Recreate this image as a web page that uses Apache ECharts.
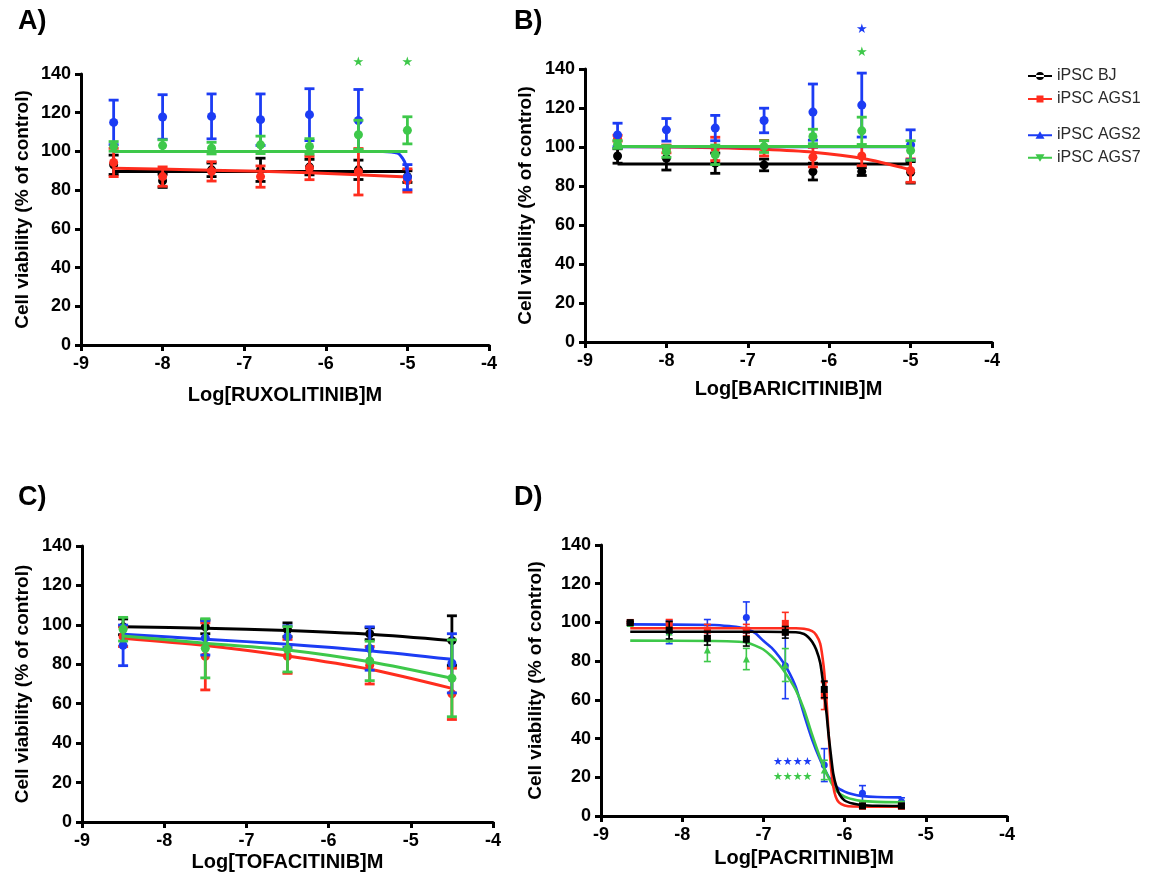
<!DOCTYPE html>
<html>
<head>
<meta charset="utf-8">
<script src="https://cdn.jsdelivr.net/npm/echarts@6/dist/echarts.min.js"></script>
<style>
  html, body { margin: 0; padding: 0; background: #ffffff; }
  #chart { width: 1156px; height: 883px; }
</style>
</head>
<body>
<div id="chart"></div>
<script>
// Cell lines (row order of every mean / SD / fit table below)
const cellLines = ['iPSC BJ', 'iPSC AGS1', 'iPSC AGS2', 'iPSC AGS7'];
const lineColors = ['#000000', '#ff2d1e', '#1c3cf4', '#3ec84a'];

// Tick values on both axes
const xTicks = [-9, -8, -7, -6, -5, -4];
const yTicks = [0, 20, 40, 60, 80, 100, 120, 140];

// A) Ruxolitinib
const ruxDose = [-8.6, -8, -7.4, -6.8, -6.2, -5.6, -5];
const ruxMean = [
  [93.1, 84.8, 90.5, 90.5, 91.9, 90.5, 87.0],
  [94.3, 87.0, 89.7, 87.0, 91.4, 89.5, 85.0],
  [115.0, 117.8, 118.1, 116.4, 119.0, 116.0, 86.7],
  [102.6, 103.0, 101.7, 103.4, 102.6, 108.6, 110.9]
];
const ruxSD = [
  [5.0, 3.4, 3.5, 6.0, 4.0, 5.0, 3.0],
  [7.3, 5.0, 5.0, 5.5, 6.0, 12.0, 6.0],
  [11.5, 11.5, 11.6, 13.3, 13.4, 16.0, 6.5],
  [2.5, 3.0, 3.0, 4.5, 4.0, 7.5, 7.0]
];
const ruxFit = [
  [[-8.6, 89.6], [-5, 89.6]],
  [[-8.6, 91.3], [-7.4, 90.3], [-6.2, 89.0], [-5, 86.8]],
  [[-8.6, 100], [-5.3, 100], [-5.12, 99.1], [-5.06, 96.5], [-5.02, 93.0], [-5, 88.5]],
  [[-8.6, 100], [-5, 100]]
];
const ruxStars = [[-5.6, 145.7, '★', 3], [-5, 145.7, '★', 3]];

// B) Baricitinib
const bariDose = [-8.6, -8, -7.4, -6.8, -6.2, -5.6, -5];
const bariMean = [
  [95.4, 94.2, 91.7, 90.8, 87.4, 87.4, 87.0],
  [104.5, 99.0, 99.0, 99.4, 94.8, 95.4, 87.9],
  [106.2, 108.8, 109.7, 113.6, 117.9, 121.5, 101.1],
  [101.3, 97.7, 96.0, 100.2, 105.4, 108.3, 98.2]
];
const bariSD = [
  [3.7, 6.0, 5.2, 3.0, 4.3, 2.0, 5.5],
  [1.5, 2.0, 6.0, 4.0, 5.0, 5.0, 6.0],
  [6.0, 5.8, 6.5, 6.3, 14.4, 16.4, 7.7],
  [2.0, 3.0, 5.0, 3.0, 3.7, 7.0, 5.0]
];
const bariFit = [
  [[-8.6, 91.3], [-5, 91.3]],
  [[-8.6, 100.3], [-7.4, 99.6], [-6.8, 98.8], [-6.2, 97.3], [-5.6, 94.2], [-5, 88.3]],
  [[-8.6, 100.1], [-5, 100.1]],
  [[-8.6, 100.2], [-5, 100.2]]
];
const bariStars = [[-5.6, 160.2, '★', 2], [-5.6, 148.2, '★', 3]];

// C) Tofacitinib
const tofaDose = [-8.5, -7.5, -6.5, -5.5, -4.5];
const tofaMean = [
  [99.0, 99.0, 97.5, 95.5, 92.0],
  [94.0, 84.0, 84.0, 79.5, 65.0],
  [89.6, 93.4, 94.0, 88.0, 80.5],
  [97.8, 88.1, 87.6, 81.7, 72.9]
];
const tofaSD = [
  [4.0, 3.5, 3.5, 3.0, 12.6],
  [5.0, 17.0, 8.6, 9.5, 13.0],
  [10.3, 8.7, 5.5, 11.0, 15.0],
  [6.0, 15.0, 11.5, 10.0, 19.5]
];
const tofaFit = [
  [[-8.5, 99.1], [-7.5, 98.3], [-6.5, 97.1], [-5.5, 95.2], [-4.5, 92.0]],
  [[-8.5, 93.2], [-7.5, 89.5], [-6.5, 84.2], [-5.5, 77.5], [-4.5, 67.8]],
  [[-8.5, 95.2], [-7.5, 92.7], [-6.5, 90.2], [-5.5, 86.9], [-4.5, 82.5]],
  [[-8.5, 94.4], [-7.5, 90.7], [-6.5, 87.3], [-5.5, 81.3], [-4.5, 72.9]]
];
const tofaStars = [];

// D) Pacritinib
const pacDose = [-8.64, -8.16, -7.69, -7.21, -6.73, -6.25, -5.78, -5.30];
const pacMean = [
  [99.9, 96.0, 91.8, 91.3, 94.9, 65.4, 5.2, 5.2],
  [100.0, 99.0, 96.0, 96.0, 99.5, 62.0, 5.0, 5.0],
  [99.5, 95.0, 96.0, 102.6, 77.6, 26.3, 11.7, 7.4],
  [99.5, 95.0, 85.8, 81.1, 78.0, 23.8, 6.5, 6.5]
];
const pacSD = [
  [0.5, 4.5, 3.5, 3.5, 3.0, 4.3, 0.8, 0.8],
  [0.5, 2.5, 3.0, 3.0, 5.7, 7.0, 1.0, 1.0],
  [1.0, 6.0, 5.5, 8.0, 17.0, 8.5, 4.0, 2.0],
  [1.0, 5.0, 6.0, 5.5, 8.5, 5.0, 1.0, 1.0]
];
const pacFit = [
  [[-8.64, 95.2], [-7.0, 95.2], [-6.6, 94.9], [-6.5, 94.0], [-6.45, 92.5], [-6.4, 90.0], [-6.35, 86.0],
   [-6.3, 79.0], [-6.26, 67.0], [-6.22, 52.0], [-6.2, 43.0], [-6.17, 32.0], [-6.14, 22.0], [-6.1, 15.0],
   [-6.06, 11.0], [-6.0, 8.0], [-5.9, 6.4], [-5.8, 5.7], [-5.6, 5.3], [-5.3, 5.2]],
  [[-8.64, 97.0], [-6.6, 97.0], [-6.5, 96.7], [-6.4, 95.5], [-6.35, 93.5], [-6.3, 89.0], [-6.26, 78.0],
   [-6.23, 64.0], [-6.21, 51.0], [-6.19, 38.0], [-6.17, 26.0], [-6.14, 15.5], [-6.11, 10.0], [-6.07, 7.0],
   [-6.0, 5.4], [-5.9, 4.9], [-5.3, 4.8]],
  [[-8.64, 99.0], [-7.6, 98.7], [-7.4, 98.0], [-7.3, 97.5], [-7.2, 96.5], [-7.1, 94.5], [-7.0, 90.5],
   [-6.9, 87.0], [-6.8, 82.0], [-6.7, 75.5], [-6.6, 66.5], [-6.5, 52.5], [-6.4, 39.5], [-6.3, 29.0],
   [-6.2, 20.5], [-6.1, 15.1], [-6.0, 12.6], [-5.9, 11.2], [-5.8, 10.4], [-5.6, 9.8], [-5.3, 9.6]],
  [[-8.64, 90.6], [-7.6, 90.4], [-7.3, 90.0], [-7.2, 89.5], [-7.1, 88.0], [-7.0, 86.0], [-6.9, 82.5],
   [-6.8, 78.0], [-6.7, 72.0], [-6.6, 65.0], [-6.5, 55.0], [-6.4, 42.0], [-6.3, 30.0], [-6.2, 20.0],
   [-6.1, 13.0], [-6.0, 10.0], [-5.9, 8.6], [-5.8, 7.8], [-5.6, 7.3], [-5.3, 7.1]]
];
const pacStars = [[-6.64, 27.9, '★★★★', 2], [-6.64, 20.2, '★★★★', 3]];

// Axis titles and panel letters
const drugTitles = ['Log[RUXOLITINIB]M', 'Log[BARICITINIB]M', 'Log[TOFACITINIB]M', 'Log[PACRITINIB]M'];
const panelLetters = ['A)', 'B)', 'C)', 'D)'];
const yTitle = 'Cell viability (% of control)';

const FONT = '"Liberation Sans", Arial, Helvetica, sans-serif';

// Panel geometry and styling
const panels = [
  { grid: { left: 81, top: 74, width: 408, height: 271 }, xGap: 40, yGap: 49,
    dose: ruxDose, mean: ruxMean, sd: ruxSD, fit: ruxFit, stars: ruxStars, starFont: 13,
    order: [0, 1, 2, 3], symbols: ['circle', 'circle', 'circle', 'circle'],
    symbolSize: 9, barWidth: 2.8, cap: 10, fitWidth: 3, smooth: 0.3, letter: [18, 8] },
  { grid: { left: 585, top: 69, width: 407, height: 273 }, xGap: 37, yGap: 50,
    dose: bariDose, mean: bariMean, sd: bariSD, fit: bariFit, stars: bariStars, starFont: 13,
    order: [0, 1, 2, 3], symbols: ['circle', 'circle', 'circle', 'circle'],
    symbolSize: 9, barWidth: 2.8, cap: 10, fitWidth: 3, smooth: 0.3, letter: [514, 8] },
  { grid: { left: 82, top: 546, width: 411, height: 276 }, xGap: 30, yGap: 50,
    dose: tofaDose, mean: tofaMean, sd: tofaSD, fit: tofaFit, stars: tofaStars, starFont: 13,
    order: [0, 1, 2, 3], symbols: ['circle', 'circle', 'circle', 'circle'],
    symbolSize: 9, barWidth: 2.8, cap: 10, fitWidth: 3, smooth: 0.3, letter: [18, 484] },
  { grid: { left: 601, top: 545, width: 406, height: 271 }, xGap: 32, yGap: 56,
    dose: pacDose, mean: pacMean, sd: pacSD, fit: pacFit, stars: pacStars, starFont: 11,
    order: [2, 3, 1, 0], symbols: ['rect', 'rect', 'circle', 'triangle'],
    symbolSize: 7, barWidth: 1.6, cap: 7, fitWidth: 2.6, smooth: 0.2, letter: [514, 484] }
];

const grids = [], xAxes = [], yAxes = [], series = [], graphics = [];

panels.forEach((p, gi) => {
  grids.push(Object.assign({ containLabel: false }, p.grid));

  xAxes.push({
    type: 'value', gridIndex: gi, min: xTicks[0], max: xTicks[xTicks.length - 1], interval: 1,
    name: drugTitles[gi], nameLocation: 'middle', nameGap: p.xGap,
    nameTextStyle: { fontFamily: FONT, fontSize: 20, fontWeight: 'bold', color: '#000' },
    axisLine: { onZero: false, lineStyle: { color: '#000', width: 3 } },
    axisTick: { length: 6, lineStyle: { color: '#000', width: 3 } },
    axisLabel: { margin: 10, fontFamily: FONT, fontSize: 18, fontWeight: 'bold', color: '#000' },
    splitLine: { show: false }
  });

  yAxes.push({
    type: 'value', gridIndex: gi, min: yTicks[0], max: yTicks[yTicks.length - 1], interval: 20,
    name: yTitle, nameLocation: 'middle', nameGap: p.yGap,
    nameTextStyle: { fontFamily: FONT, fontSize: 19, fontWeight: 'bold', color: '#000' },
    axisLine: { onZero: false, lineStyle: { color: '#000', width: 3 } },
    axisTick: { length: 6, lineStyle: { color: '#000', width: 3 } },
    axisLabel: { margin: 10, fontFamily: FONT, fontSize: 18, fontWeight: 'bold', color: '#000' },
    splitLine: { show: false }
  });

  p.order.forEach((li, k) => {
    const color = lineColors[li];
    const zBase = 2 + k * 3;

    // error bars: mean ± SD with caps
    series.push({
      type: 'custom', name: cellLines[li], xAxisIndex: gi, yAxisIndex: gi,
      itemStyle: { color },
      z: zBase,
      data: p.dose.map((x, i) => [x, p.mean[li][i] - p.sd[li][i], p.mean[li][i] + p.sd[li][i]]),
      encode: { x: 0, y: [1, 2] },
      renderItem: (params, api) => {
        const x = api.value(0);
        const lo = api.coord([x, api.value(1)]);
        const hi = api.coord([x, api.value(2)]);
        const w = p.cap / 2;
        const style = { stroke: color, lineWidth: p.barWidth, fill: null };
        return {
          type: 'group',
          children: [
            { type: 'line', shape: { x1: lo[0], y1: lo[1], x2: hi[0], y2: hi[1] }, style },
            { type: 'line', shape: { x1: hi[0] - w, y1: hi[1], x2: hi[0] + w, y2: hi[1] }, style },
            { type: 'line', shape: { x1: lo[0] - w, y1: lo[1], x2: lo[0] + w, y2: lo[1] }, style }
          ]
        };
      }
    });

    // mean values
    series.push({
      type: 'scatter', name: cellLines[li], xAxisIndex: gi, yAxisIndex: gi,
      symbol: p.symbols[li], symbolSize: p.symbolSize,
      itemStyle: { color, opacity: 1 },
      z: zBase + 1,
      data: p.dose.map((x, i) => [x, p.mean[li][i]])
    });

    // fitted dose-response curve
    series.push({
      type: 'line', name: cellLines[li], xAxisIndex: gi, yAxisIndex: gi,
      data: p.fit[li], smooth: p.smooth, showSymbol: false, symbol: 'none',
      lineStyle: { color, width: p.fitWidth },
      itemStyle: { color },
      z: zBase + 2
    });
  });

  // significance markers
  if (p.stars.length) {
    series.push({
      type: 'custom', name: 'sig-' + gi, xAxisIndex: gi, yAxisIndex: gi, clip: false, z: 30,
      data: p.stars.map(s => [s[0], s[1]]),
      renderItem: (params, api) => {
        const s = p.stars[params.dataIndex];
        const pt = api.coord([api.value(0), api.value(1)]);
        return {
          type: 'text', x: pt[0], y: pt[1],
          style: { text: s[2], fill: lineColors[s[3]], font: 'bold ' + p.starFont + 'px "DejaVu Sans", sans-serif',
                   align: 'center', verticalAlign: 'middle' }
        };
      }
    });
  }

  graphics.push({
    type: 'text', left: p.letter[0], top: p.letter[1],
    style: { text: panelLetters[gi], font: 'bold 27px ' + FONT, fill: '#000' }
  });
});

// Legend icons: a short line with the marker of each cell line
const legendIcons = [
  'path://M0,4H24V6H0Z M8,5a4,4 0 1,0 8,0a4,4 0 1,0 -8,0Z',
  'path://M0,4H24V6H0Z M8.5,1.5H15.5V8.5H8.5Z',
  'path://M0,4H24V6H0Z M12,1L16.5,8.5H7.5Z',
  'path://M0,4H24V6H0Z M7.5,1.5H16.5L12,9Z'
];

const legendBase = {
  orient: 'vertical', left: 1023, itemWidth: 24, itemHeight: 9, itemGap: 7,
  textStyle: { fontFamily: FONT, fontSize: 16, color: '#2a2a2a' }
};

const option = {
  animation: false,
  backgroundColor: '#ffffff',
  grid: grids,
  xAxis: xAxes,
  yAxis: yAxes,
  legend: [
    Object.assign({}, legendBase, { top: 63, data: [0, 1].map(i => ({ name: cellLines[i], icon: legendIcons[i], itemStyle: { color: lineColors[i] } })) }),
    Object.assign({}, legendBase, { top: 122, data: [2, 3].map(i => ({ name: cellLines[i], icon: legendIcons[i], itemStyle: { color: lineColors[i] } })) })
  ],
  graphic: graphics,
  series
};

const chart = echarts.init(document.getElementById('chart'), null, { renderer: 'canvas' });
chart.setOption(option);
</script>
</body>
</html>
